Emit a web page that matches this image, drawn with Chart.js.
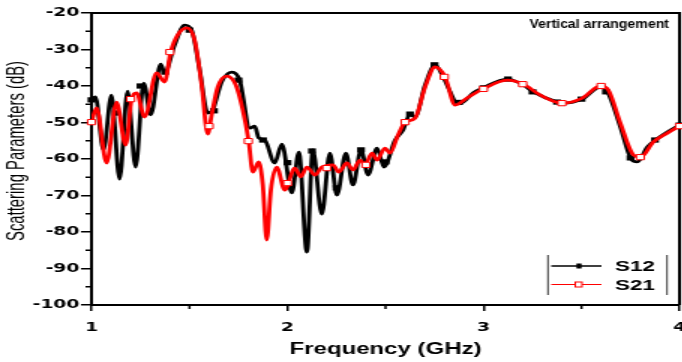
<!DOCTYPE html>
<html>
<head>
<meta charset="utf-8">
<script src="https://cdn.jsdelivr.net/npm/chart.js@4.4.0/dist/chart.umd.min.js"></script>
<style>
  html, body { margin: 0; padding: 0; background: #fff; overflow: hidden; }
  /* the source figure is stretched sideways, so the whole chart is too */
  #wrap { position: absolute; left: 0; top: 0; width: 455px; height: 362px; transform: scaleX(1.5); transform-origin: 0 0; }
</style>
</head>
<body>
<div id="wrap"><canvas id="chart"></canvas></div>
<script>
// S12 (black) curve
const s12Freq = [1.0, 1.02, 1.061, 1.102, 1.143, 1.184, 1.225, 1.266, 1.302, 1.353, 1.373, 1.424, 1.475, 1.511, 1.552, 1.593, 1.618, 1.664, 1.716, 1.756,
  1.808, 1.833, 1.853, 1.884, 1.935, 1.971, 2.022, 2.058, 2.099, 2.129, 2.175, 2.216, 2.252, 2.298, 2.334, 2.375, 2.411, 2.457, 2.492, 2.549,
  2.589, 2.625, 2.651, 2.702, 2.753, 2.794, 2.83, 2.865, 2.896, 2.947, 2.998, 3.121, 3.203, 3.254, 3.376, 3.407, 3.504, 3.596, 3.632, 3.698,
  3.75, 3.785, 3.836, 3.877, 3.938, 4.0];
const s12Db = [-43.8, -43.0, -57.5, -42.5, -65.5, -41.4, -62.2, -39.2, -47.9, -34.0, -36.4, -28.8, -23.3, -24.7, -35.6, -47.4, -46.6, -38.9, -36.2, -38.4,
  -51.5, -51.0, -54.2, -54.8, -61.1, -55.9, -69.3, -58.1, -85.5, -57.5, -75.1, -58.4, -69.9, -58.4, -67.1, -57.5, -64.4, -57.0, -62.2, -54.8,
  -52.1, -47.7, -48.5, -39.7, -34.2, -37.5, -41.6, -44.7, -44.4, -41.9, -40.5, -38.1, -39.7, -41.6, -44.4, -44.7, -43.6, -40.3, -41.6, -51.2,
  -59.7, -60.8, -56.7, -54.8, -52.6, -50.7];

// S21 (red) curve
const s21Freq = [1.0, 1.026, 1.077, 1.128, 1.174, 1.204, 1.23, 1.271, 1.332, 1.373, 1.404, 1.44, 1.486, 1.526, 1.562, 1.593, 1.613, 1.644, 1.69, 1.736,
  1.772, 1.802, 1.823, 1.853, 1.874, 1.894, 1.915, 1.945, 1.986, 2.037, 2.068, 2.099, 2.14, 2.175, 2.232, 2.262, 2.303, 2.334, 2.37, 2.395,
  2.431, 2.457, 2.497, 2.523, 2.564, 2.6, 2.651, 2.702, 2.753, 2.804, 2.855, 2.916, 2.998, 3.121, 3.203, 3.29, 3.402, 3.504, 3.596, 3.637,
  3.698, 3.765, 3.801, 3.867, 3.938, 4.0];
const s21Db = [-49.9, -46.0, -61.1, -44.4, -56.2, -43.8, -41.9, -48.5, -36.4, -38.9, -30.7, -26.0, -24.1, -27.4, -39.7, -53.2, -47.9, -40.3, -37.3, -39.7,
  -46.6, -55.1, -63.6, -60.8, -67.1, -82.2, -68.5, -62.2, -68.5, -62.5, -64.9, -62.2, -64.4, -62.2, -61.6, -63.6, -61.1, -63.0, -60.3, -61.6,
  -58.4, -60.3, -57.0, -58.4, -53.4, -49.9, -48.8, -40.3, -34.8, -37.5, -45.2, -43.3, -40.8, -38.4, -39.5, -42.5, -44.7, -43.3, -40.0, -41.1,
  -50.1, -58.9, -59.5, -55.3, -52.9, -51.0];

// symbols sitting on the curves
const s12MarkFreq = [1.0, 1.125, 1.25, 1.375, 1.5, 1.625, 1.75, 1.875, 2.0, 2.125, 2.25, 2.375, 2.5, 2.625, 2.75, 2.875, 3.0, 3.125, 3.25, 3.375, 3.5, 3.625, 3.75, 3.875, 4.0];
const s12MarkDb = [-43.8, -47.4, -40.0, -36.2, -24.7, -46.8, -38.4, -54.8, -61.0, -57.8, -67.9, -57.5, -60.8, -47.7, -34.2, -44.5, -40.5, -38.1, -41.6, -44.4, -43.6, -41.6, -59.7, -54.8, -50.7];
const s21MarkFreq = [1.0, 1.2, 1.4, 1.6, 1.8, 2.0, 2.2, 2.4, 2.6, 2.8, 3.0, 3.2, 3.4, 3.6, 3.8, 4.0];
const s21MarkDb = [-49.9, -43.6, -30.7, -51.0, -55.1, -66.6, -62.5, -61.6, -49.9, -37.5, -40.8, -39.5, -44.7, -40.0, -59.5, -51.0];

const xTicks = [1, 2, 3, 4];
const xMinor = [1.5, 2.5, 3.5];
const yTicks = [-100, -90, -80, -70, -60, -50, -40, -30, -20];
const yMinor = [-95, -85, -75, -65, -55, -45, -35, -25];
const seriesNames = ['S12', 'S21'];
const yTitle = 'Scattering Parameters (dB)';
const note = 'Vertical arrangement';

const pts = (xs, ys) => xs.map((x, i) => ({ x: x, y: ys[i] }));

// draw text squeezed along its own direction to a given length
function squeezedText(ctx, text, x, y, font, len, angle) {
  ctx.save();
  ctx.translate(x, y);
  ctx.rotate(angle);
  ctx.font = font;
  const w = ctx.measureText(text).width;
  ctx.scale(Math.min(1, len / w), 1);
  ctx.fillText(text, 0, 0);
  ctx.restore();
}

// box, minor ticks, y title, corner note and the legend
const extras = {
  id: 'extras',
  beforeDatasetsDraw(chart) {
    const { ctx, chartArea: a, scales } = chart;
    ctx.save();
    ctx.strokeStyle = '#000';
    ctx.lineWidth = 2;
    ctx.beginPath();
    ctx.moveTo(a.left, a.top); ctx.lineTo(a.right, a.top); ctx.lineTo(a.right, a.bottom);
    ctx.stroke();
    ctx.lineWidth = 1.5;
    ctx.beginPath();
    yMinor.forEach(v => {
      const y = scales.y.getPixelForValue(v);
      ctx.moveTo(a.left - 4, y); ctx.lineTo(a.left, y);
    });
    xMinor.forEach(v => {
      const x = scales.x.getPixelForValue(v);
      ctx.moveTo(x, a.bottom); ctx.lineTo(x, a.bottom + 4);
    });
    ctx.stroke();
    ctx.restore();
  },
  afterDraw(chart) {
    const ctx = chart.ctx;
    ctx.save();
    ctx.fillStyle = '#000';
    ctx.textAlign = 'center';
    ctx.textBaseline = 'middle';
    squeezedText(ctx, yTitle, 11.5, 151, "17px 'Liberation Sans'", 180, -Math.PI / 2);

    ctx.textAlign = 'right';
    ctx.textBaseline = 'alphabetic';
    squeezedText(ctx, note, 446, 28, "bold 13px 'Liberation Sans'", 93, 0);

    // legend frame (left and right bars only)
    ctx.strokeStyle = '#000';
    ctx.lineWidth = 0.8;
    ctx.beginPath();
    ctx.moveTo(365.3, 255); ctx.lineTo(365.3, 295);
    ctx.moveTo(444.7, 255); ctx.lineTo(444.7, 295);
    ctx.stroke();

    // S12 row
    ctx.lineWidth = 1.3;
    ctx.beginPath(); ctx.moveTo(367.5, 266); ctx.lineTo(401, 266); ctx.stroke();
    ctx.fillRect(384.3, 263.5, 3.4, 5);
    // S21 row
    ctx.strokeStyle = '#ff0000';
    ctx.lineWidth = 1;
    ctx.beginPath(); ctx.moveTo(367.5, 284.5); ctx.lineTo(401, 284.5); ctx.stroke();
    ctx.fillStyle = '#fff';
    ctx.fillRect(383.5, 282, 4.5, 5);
    ctx.strokeRect(383.5, 282, 4.5, 5);

    ctx.fillStyle = '#000';
    ctx.font = "bold 15px 'Liberation Sans'";
    ctx.textAlign = 'left';
    ctx.textBaseline = 'middle';
    ctx.fillText(seriesNames[0], 410, 267);
    ctx.fillText(seriesNames[1], 410, 285.5);
    ctx.restore();
  }
};

const tickFont = { family: 'DejaVu Sans', weight: 'bold', size: 12.5 };

new Chart(document.getElementById('chart').getContext('2d'), {
  type: 'line',
  data: {
    datasets: [
      {
        label: seriesNames[0],
        data: pts(s12Freq, s12Db),
        borderColor: '#000',
        borderWidth: 2.8,
        pointRadius: 0,
        pointHoverRadius: 0,
        cubicInterpolationMode: 'monotone',
        order: 3
      },
      {
        label: seriesNames[0] + ' symbols',
        data: pts(s12MarkFreq, s12MarkDb),
        showLine: false,
        pointStyle: 'rect',
        pointRadius: 3.7,
        pointHoverRadius: 3.7,
        backgroundColor: '#000',
        borderColor: '#000',
        borderWidth: 0,
        clip: false,
        order: 2
      },
      {
        label: seriesNames[1],
        data: pts(s21Freq, s21Db),
        borderColor: '#ff0000',
        borderWidth: 2.8,
        pointRadius: 0,
        pointHoverRadius: 0,
        cubicInterpolationMode: 'monotone',
        order: 1
      },
      {
        label: seriesNames[1] + ' symbols',
        data: pts(s21MarkFreq, s21MarkDb),
        showLine: false,
        pointStyle: 'rect',
        pointRadius: 3.7,
        pointHoverRadius: 3.7,
        backgroundColor: '#fff',
        borderColor: '#ff0000',
        borderWidth: 1,
        clip: false,
        order: 0
      }
    ]
  },
  options: {
    responsive: true,
    maintainAspectRatio: false,
    animation: false,
    events: [],
    layout: { autoPadding: false, padding: { top: 13, right: 2, bottom: 0, left: 0 } },
    plugins: { legend: { display: false }, tooltip: { enabled: false } },
    scales: {
      x: {
        type: 'linear', min: 1, max: 4,
        afterBuildTicks: s => { s.ticks = xTicks.map(v => ({ value: v })); },
        afterFit: s => { s.height = 57; s.paddingLeft = 0; s.paddingRight = 0; },
        ticks: { font: tickFont, color: '#000', padding: 9, maxRotation: 0, callback: v => String(v) },
        grid: { drawOnChartArea: false, tickLength: 6, color: '#000', lineWidth: 1.5 },
        border: { color: '#000', width: 2 },
        title: {
          display: true, text: 'Frequency (GHz)', color: '#000',
          font: { family: 'Liberation Sans', weight: 'bold', size: 16 },
          padding: { top: 0, bottom: 3 }
        }
      },
      y: {
        type: 'linear', min: -100, max: -20,
        afterBuildTicks: s => { s.ticks = yTicks.map(v => ({ value: v })); },
        afterFit: s => { s.width = 61; s.paddingTop = 0; s.paddingBottom = 0; },
        ticks: { font: tickFont, color: '#000', padding: 1, callback: v => String(v) },
        grid: { drawOnChartArea: false, tickLength: 7, color: '#000', lineWidth: 1.5 },
        border: { color: '#000', width: 2 }
      }
    }
  },
  plugins: [extras]
});
</script>
</body>
</html>
